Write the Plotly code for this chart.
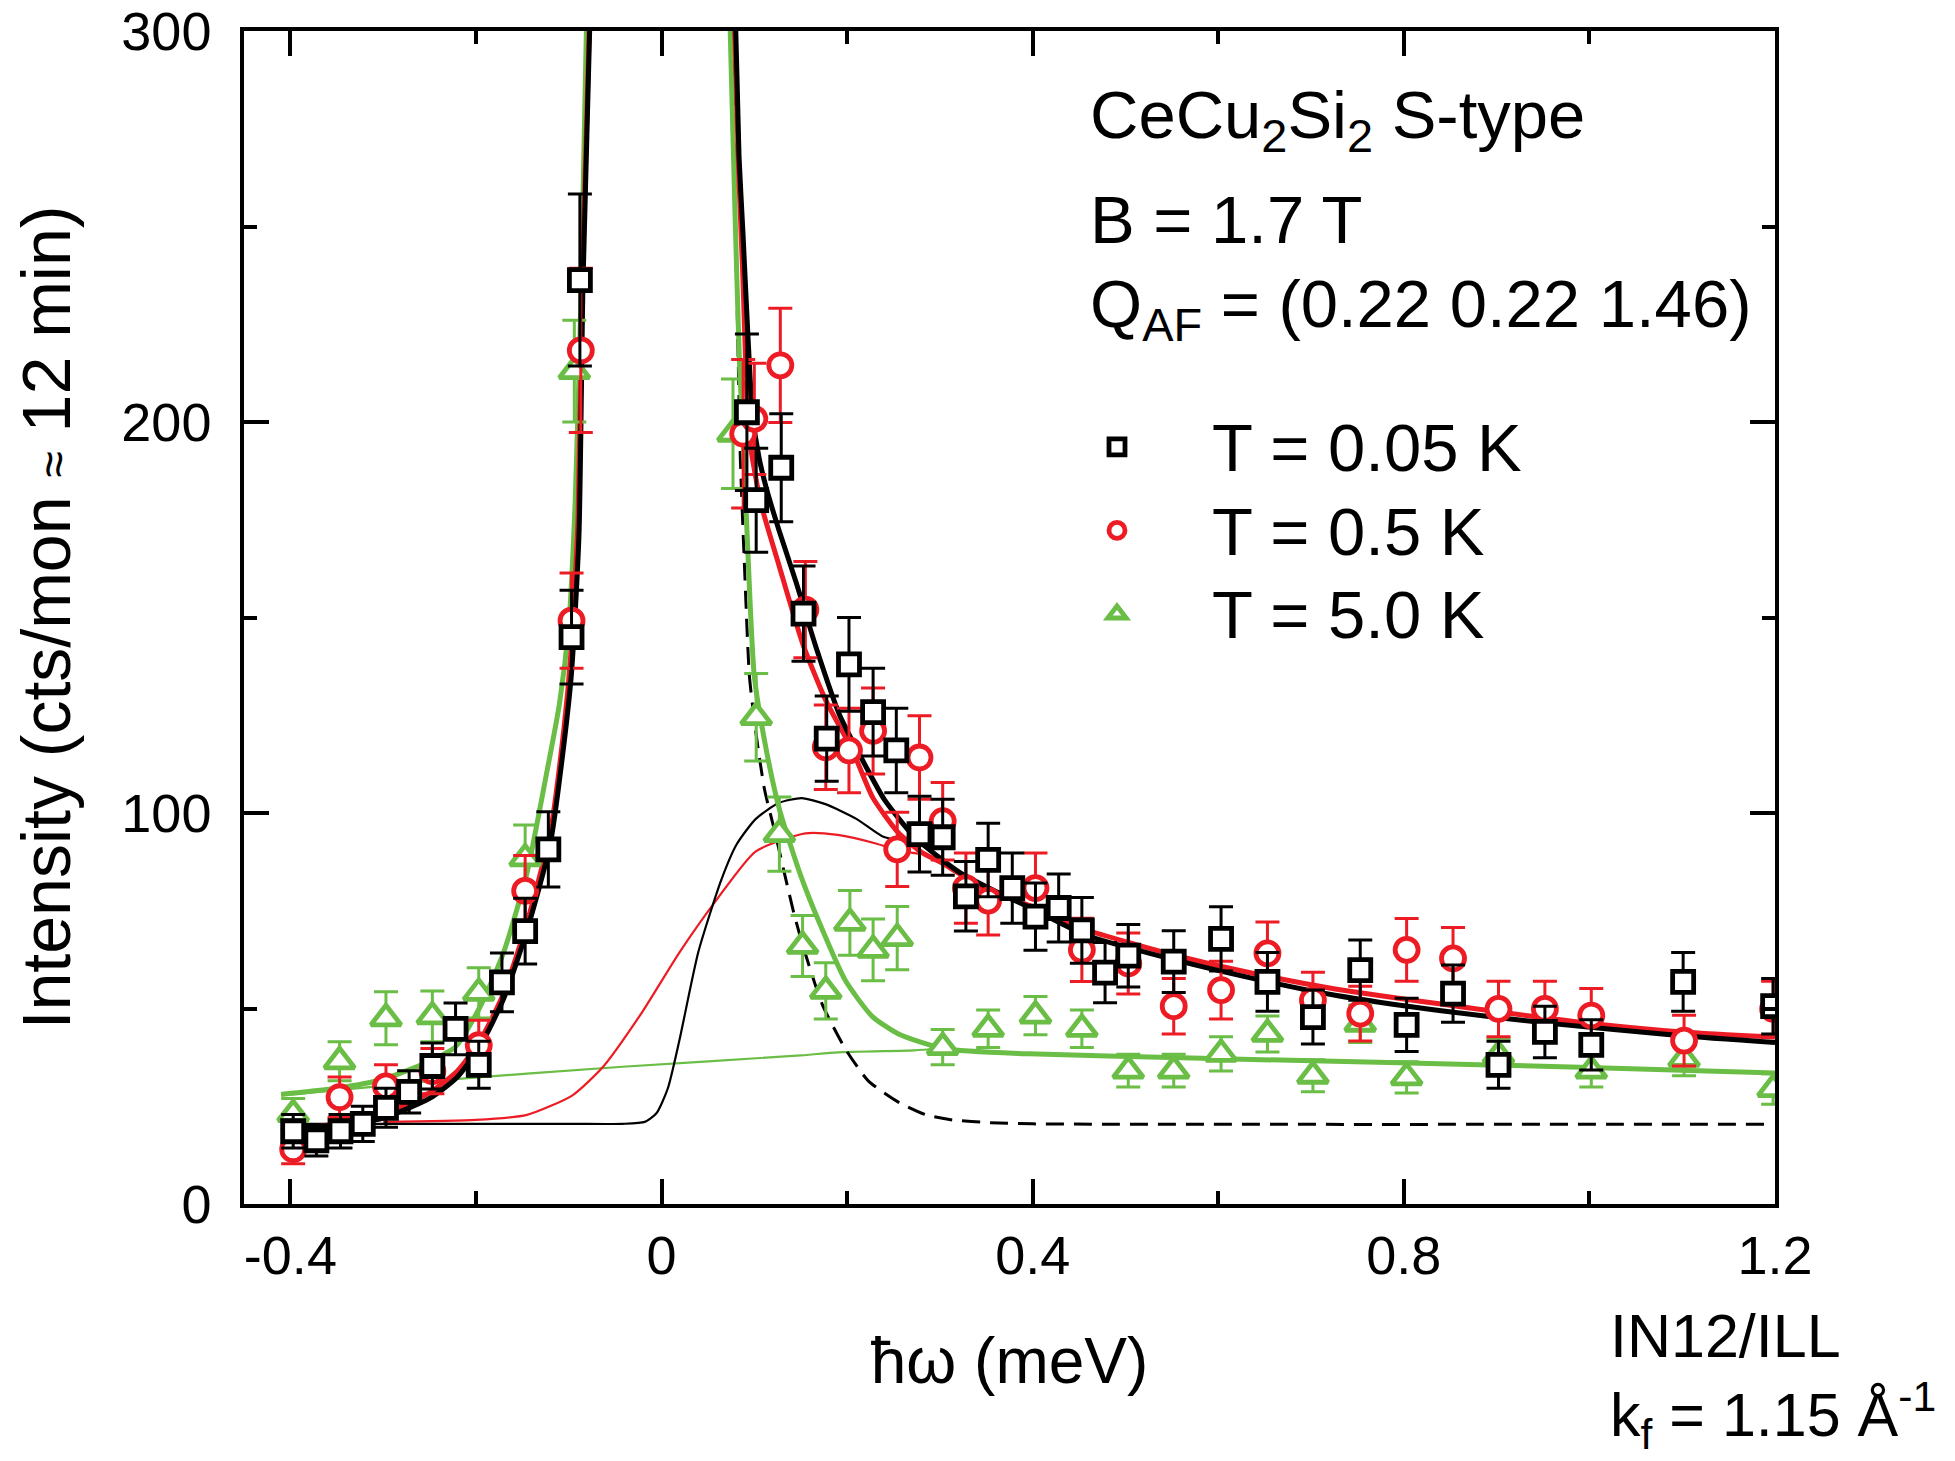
import plotly.graph_objects as go

RED = "#ED1C24"
GREEN = "#6ABD45"
BLACK = "#000000"
FONT = "Liberation Sans, Arial, sans-serif"

# ---- axis tick labels
x_tickvals = [-0.4, 0, 0.4, 0.8, 1.2]
x_ticktext = ["-0.4", "0", "0.4", "0.8", "1.2"]
y_tickvals = [0, 100, 200, 300]
y_ticktext = ["0", "100", "200", "300"]

# ---- data: T = 0.05 K (black squares)
x_005 = [-0.397, -0.372, -0.346, -0.322, -0.297, -0.272, -0.247, -0.222, -0.197, -0.172, -0.147, -0.122,
         -0.097, -0.088, 0.092, 0.102, 0.129, 0.153, 0.178, 0.202, 0.228, 0.253, 0.278, 0.303, 0.328, 0.352,
         0.378, 0.403, 0.428, 0.453, 0.478, 0.503, 0.552, 0.603, 0.653, 0.702, 0.753, 0.803, 0.853, 0.902,
         0.952, 1.002, 1.101, 1.198]
y_005 = [18.6, 16.3, 18.6, 20.5, 24.6, 28.7, 35.3, 44.8, 35.6, 56.7, 69.8, 90.7,
         145, 236.3, 202.5, 180, 188.3, 151, 119, 138, 125.8, 116, 94.6, 93.8, 78.7, 88,
         80.8, 73.5, 75.7, 70, 59.2, 63.5, 62, 67.8, 56.8, 47.8, 59.8, 45.8, 53.8, 35.6,
         44, 40.7, 56.8, 50.6]
e_005 = [4.3, 4.0, 4.3, 4.5, 5.0, 5.4, 5.9, 6.6, 6.0, 7.5, 8.4, 9.6,
         12, 22, 20, 13.3, 13.8, 12.2, 10.9, 12, 11.2, 10.8, 9.7, 9.7, 8.9, 9.4,
         9.0, 8.6, 8.7, 8.4, 7.7, 8.0, 7.9, 8.2, 7.5, 6.9, 7.7, 6.8, 7.3, 6.0,
         6.6, 6.4, 7.5, 7.1]

# ---- data: T = 0.5 K (red circles)
x_05 = [-0.397, -0.347, -0.297, -0.247, -0.197, -0.147, -0.097, -0.087, 0.088, 0.100, 0.128, 0.155,
        0.177, 0.202, 0.228, 0.254, 0.278, 0.303, 0.328, 0.352, 0.403, 0.453, 0.503, 0.552, 0.603,
        0.653, 0.702, 0.753, 0.803, 0.853, 0.902, 0.952, 1.002, 1.102, 1.198]
y_05 = [14, 27.3, 30.1, 34, 40.6, 80.1, 149.2, 218.3, 197, 200.8, 214.5, 152,
        116.8, 116, 121, 90.7, 114.2, 97.9, 80.8, 77.6, 80.8, 65, 61.5, 50.6, 54.7,
        64.1, 52.1, 48.7, 65, 62.8, 49.9, 49.9, 48.2, 41.8, 49.9]
e_05 = [3.7, 5.2, 5.5, 5.8, 6.4, 9, 12.2, 21, 19, 14.2, 14.6, 12.3,
        10.8, 10.8, 11, 9.5, 10.7, 9.9, 9, 8.8, 9, 8.1, 7.8, 7.1, 7.4,
        8, 7.2, 7, 8, 7.9, 7.1, 7.1, 6.9, 6.5, 7.1]

# ---- data: T = 5.0 K (green triangles)
x_50 = [-0.397, -0.347, -0.297, -0.247, -0.197, -0.147, -0.094, 0.077, 0.102, 0.127, 0.152, 0.177,
        0.203, 0.228, 0.254, 0.303, 0.352, 0.403, 0.453, 0.503, 0.552, 0.603, 0.653, 0.702,
        0.753, 0.803, 0.902, 1.002, 1.102, 1.198]
y_50 = [23, 36.5, 47.5, 48, 54, 88.4, 213, 197, 124.5, 94.6, 66, 54.5,
        71.9, 65, 68, 40.1, 44.8, 48.2, 44.8, 34.1, 34.1, 38.4, 43.5, 32.8,
        46.1, 32.4, 38, 34.1, 37.1, 29.4]
e_50 = [4.0, 5.0, 6.8, 6.5, 6.4, 8.5, 13, 14, 11.2, 9.5, 7.8, 7.2,
        8.3, 7.9, 8.1, 4.5, 4.8, 4.9, 4.8, 4.2, 4.2, 4.4, 4.6, 4.1,
        4.8, 4.0, 4.4, 4.2, 4.3, 3.9]

# ---- fitted curves (thick), left and right branches
fb_xl = [-0.41, -0.4, -0.35, -0.3, -0.25, -0.22, -0.195, -0.17, -0.145, -0.12, -0.105, -0.097, -0.089, -0.0847, -0.0775]
fb_yl = [18.8, 19, 20, 22, 27, 32.5, 40.6, 52.6, 70, 92, 118, 136, 171, 235, 300]
fb_xr = [0.080, 0.0835, 0.0876, 0.0929, 0.098, 0.105, 0.113, 0.127, 0.145, 0.167, 0.192, 0.22, 0.24, 0.272,
         0.3, 0.322, 0.3675, 0.4, 0.457, 0.547, 0.637, 0.726, 0.838, 0.957, 1.096, 1.2]
fb_yr = [300, 268, 249, 223, 202, 191, 183, 172, 159, 142, 125, 112, 103.5, 94,
         88.5, 84.7, 79.1, 75.5, 68.8, 62.8, 57.7, 53.4, 49.5, 46.2, 43.1, 41.3]

fr_xl = [-0.41, -0.4, -0.35, -0.3, -0.25, -0.22, -0.195, -0.17, -0.145, -0.12, -0.105, -0.098, -0.09, -0.0855, -0.078]
fr_yl = [18.8, 19.2, 20.5, 23, 28.5, 34, 42, 54, 72, 95, 122, 140, 175, 235, 300]
fr_xr = [0.079, 0.083, 0.0875, 0.0947, 0.1073, 0.127, 0.152, 0.177, 0.206, 0.2275, 0.255, 0.28, 0.3, 0.35,
         0.4, 0.457, 0.547, 0.637, 0.726, 0.838, 0.99, 1.1, 1.2]
fr_yr = [300, 265, 238, 196, 179, 163, 143.4, 128.8, 115.9, 104, 95, 90, 87.5, 80.5,
         76, 70.2, 64, 59, 55, 51.2, 46.5, 44, 42.7]

fg_xl = [-0.41, -0.4, -0.35, -0.3, -0.25, -0.222, -0.195, -0.17, -0.145, -0.124, -0.11, -0.1, -0.093, -0.087, -0.081]
fg_yl = [28, 28.3, 29.6, 31.9, 36.5, 40.2, 50.7, 64.5, 84.7, 110, 128, 148, 180, 230, 300]
fg_xr = [0.074, 0.079, 0.084, 0.088, 0.093, 0.1, 0.113, 0.127, 0.15, 0.17, 0.198, 0.227, 0.256, 0.305,
         0.396, 0.56, 0.795, 0.99, 1.2]
fg_yr = [300, 255, 215, 195, 167, 135, 116, 101, 84, 72, 57.2, 48, 43.4, 39.7,
         38.4, 37.4, 36.1, 35, 33.5]

# ---- thin component curves
tb_x = [-0.41, -0.1, -0.042, -0.018, -0.0055, 0.0068, 0.019, 0.0397, 0.0644, 0.081, 0.1016, 0.1266,
        0.151, 0.1774, 0.21, 0.239, 0.268, 0.285]
tb_y = [20.5, 20.5, 20.5, 21, 23.2, 29.6, 41.6, 64.5, 82.9, 92, 98.5, 102.6,
        103.8, 102.2, 98.5, 93.9, 92.5, 91.3]
tr_x = [-0.3, -0.2, -0.145, -0.096, -0.063, -0.0214, 0.0197, 0.0609, 0.1016, 0.155, 0.19, 0.231, 0.255, 0.28]
tr_y = [21, 21.5, 22.8, 27.8, 35.1, 48.9, 64.5, 78.3, 90.2, 94.8, 94.4, 92.2, 90.4, 89.5]
tg_x = [-0.41, -0.3, -0.247, -0.042, 0.15, 0.19, 0.272, 0.3]
tg_y = [27.8, 30.2, 31.5, 35.1, 38, 38.8, 39.3, 39.7]

# ---- elastic + background (dashed)
el_x = [0.0775, 0.0786, 0.0822, 0.085, 0.0894, 0.0947, 0.102, 0.111, 0.1223, 0.143, 0.155, 0.1733,
        0.198, 0.2228, 0.2557, 0.285, 0.3134, 0.354, 0.4, 1.19]
el_y = [300, 266, 221, 190, 163, 135, 120, 106, 95, 74, 64, 51,
        39.7, 31.5, 26, 22.8, 21.5, 20.8, 20.5, 20.4]

fig = go.Figure()

def line(x, y, color, width, dash="solid"):
    fig.add_trace(go.Scatter(x=x, y=y, mode="lines", showlegend=False, hoverinfo="skip",
                             line=dict(color=color, width=width, dash=dash, shape="spline", smoothing=0.6)))

line(tg_x, tg_y, GREEN, 2.2)
line(tr_x, tr_y, RED, 2.2)
line(tb_x, tb_y, BLACK, 2.2)
line(el_x, el_y, BLACK, 3, "18px,10px")
for xl, yl, xr, yr, c in [(fg_xl, fg_yl, fg_xr, fg_yr, GREEN),
                          (fr_xl, fr_yl, fr_xr, fr_yr, RED),
                          (fb_xl, fb_yl, fb_xr, fb_yr, BLACK)]:
    line(xl, yl, c, 5)
    line(xr, yr, c, 5)

LEG_SPAN = "<span style='font-size:67px'>{}</span>"

def data(x, y, e, color, symbol, size, name, rank):
    fig.add_trace(go.Scatter(
        x=x, y=y, mode="markers", name=LEG_SPAN.format(name), legendrank=rank,
        marker=dict(symbol=symbol, size=size, color="white", line=dict(color=color, width=4.8)),
        error_y=dict(type="data", array=e, visible=True, color=color, thickness=3, width=12)))

data(x_50, y_50, e_50, GREEN, "triangle-up", 26, "T = 5.0 K", 3)
data(x_05, y_05, e_05, RED, "circle", 23, "T = 0.5 K", 2)
data(x_005, y_005, e_005, BLACK, "square", 21, "T = 0.05 K", 1)

axis_common = dict(showline=True, linecolor=BLACK, linewidth=3.5, mirror="allticks",
                   ticks="inside", ticklen=25, tickwidth=3.5, tickcolor=BLACK,
                   showgrid=False, zeroline=False, automargin=False,
                   tickfont=dict(family=FONT, size=54, color=BLACK))

fig.update_xaxes(range=[-0.45, 1.2], tickmode="array", tickvals=x_tickvals, ticktext=x_ticktext,
                 minor=dict(dtick=0.2, tick0=-0.4, ticks="inside", ticklen=13, tickwidth=3.5, tickcolor=BLACK),
                 ticklabelstandoff=1,
                 title=dict(text="ħω (meV)", font=dict(family=FONT, size=64, color=BLACK), standoff=56),
                 **axis_common)
fig.update_yaxes(range=[0, 300], tickmode="array", tickvals=y_tickvals, ticktext=y_ticktext,
                 minor=dict(dtick=50, tick0=0, ticks="inside", ticklen=13, tickwidth=3.5, tickcolor=BLACK),
                 ticklabelstandoff=18,
                 title=dict(text="Intensity (cts/mon <span style='font-size:48px'>≈</span> 12 min)",
                            font=dict(family=FONT, size=68, color=BLACK), standoff=30),
                 **axis_common)

W, H = 1955, 1461
L, R, T, B = 244, 180, 31, 257
pw, ph = W - L - R, H - T - B

def px(x):
    return (x - L) / pw

def py(y):
    return (H - B - y) / ph

annots = [
    ("CeCu<sub>2</sub>Si<sub>2</sub> S-type", 1088, 119, 67, "middle"),
    ("B = 1.7 T", 1088, 219, 67, "middle"),
    ("Q<sub>AF</sub> = (0.22 0.22 1.46)", 1088, 308, 67, "middle"),
    ("IN12/ILL<br>k<sub>f</sub> = 1.15 Å<sup>-1</sup>", 1608, 1460, 61, "bottom"),
]
for txt, ax_, ay_, fs, ya in annots:
    fig.add_annotation(text=txt, x=px(ax_), y=py(ay_), xref="paper", yref="paper",
                       xanchor="left", yanchor=ya, align="left", showarrow=False,
                       font=dict(family=FONT, size=fs, color=BLACK))

fig.update_layout(
    width=W, height=H, autosize=False,
    margin=dict(l=L, r=R, t=T, b=B, pad=0, autoexpand=False),
    paper_bgcolor="white", plot_bgcolor="white",
    font=dict(family=FONT, color=BLACK),
    legend=dict(x=px(1022), y=py(400), xanchor="left", yanchor="top",
                font=dict(family=FONT, size=62, color=BLACK), itemwidth=180,
                bgcolor="rgba(0,0,0,0)", borderwidth=0, tracegroupgap=0),
)

fig.write_html("out.html")
